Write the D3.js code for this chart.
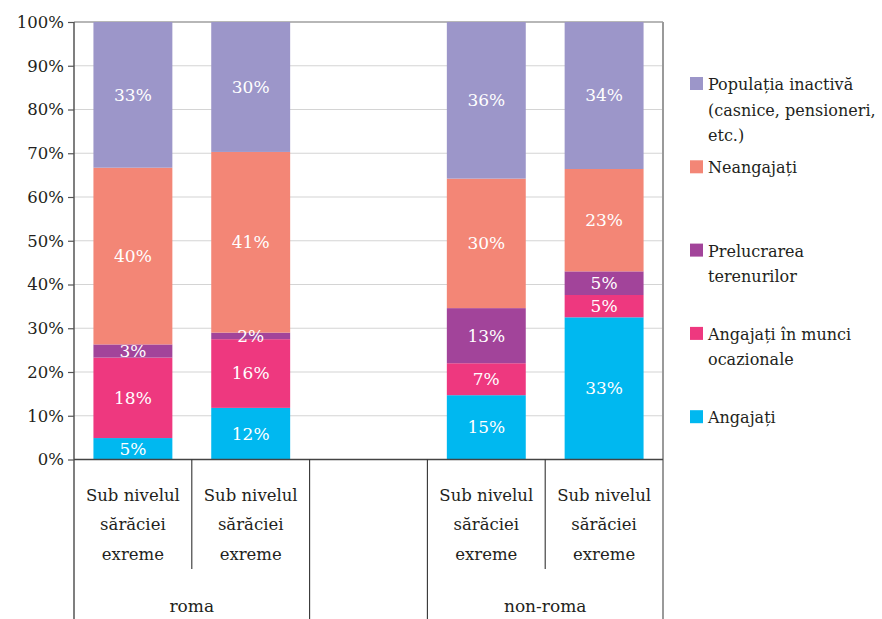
<!DOCTYPE html>
<html>
<head>
<meta charset="utf-8">
<script src="https://cdn.jsdelivr.net/npm/d3@7"></script>
<style>
  html, body { margin: 0; padding: 0; background: #ffffff; }
  svg { display: block; }
</style>
</head>
<body>
<svg id="chart" width="882" height="619" style="font-family: 'DejaVu Serif', serif;"></svg>
<script>
// ---- data ----
const slots = ["r1", "r2", "gap", "n1", "n2"];
const categoryLabels = [
  ["Sub nivelul", "sărăciei", "exreme"],
  ["Sub nivelul", "sărăciei", "exreme"],
  [],
  ["Sub nivelul", "sărăciei", "exreme"],
  ["Sub nivelul", "sărăciei", "exreme"]
];
const groups = ["roma", "non-roma"];
const seriesKeys = ["angajati", "ocazionale", "prelucrare", "neangajati", "inactiva"];
const angajati   = [4.9, 11.8, null, 14.7, 32.5];
const ocazionale = [18.4, 15.7, null, 7.3, 5.1];
const prelucrare = [3.0, 1.5, null, 12.6, 5.4];
const neangajati = [40.4, 41.3, null, 29.6, 23.4];
const inactiva   = [33.3, 29.7, null, 35.8, 33.6];
const seriesNames = {
  inactiva: ["Populația inactivă", "(casnice, pensioneri,", "etc.)"],
  neangajati: ["Neangajați"],
  prelucrare: ["Prelucrarea", "terenurilor"],
  ocazionale: ["Angajați în munci", "ocazionale"],
  angajati: ["Angajați"]
};
const colors = {
  angajati: "#00b8f0",
  ocazionale: "#ee387f",
  prelucrare: "#a2449a",
  neangajati: "#f38676",
  inactiva: "#9c96c9"
};
const yTicks = [0, 10, 20, 30, 40, 50, 60, 70, 80, 90, 100];

// ---- build table ----
const valuesByKey = { angajati, ocazionale, prelucrare, neangajati, inactiva };
const table = slots.map((s, i) => {
  const row = { slot: s };
  seriesKeys.forEach(k => row[k] = valuesByKey[k][i] == null ? 0 : valuesByKey[k][i]);
  return row;
});
const stacked = d3.stack().keys(seriesKeys)(table);

// ---- layout ----
const svg = d3.select("#chart");
const L = 74, R = 663, T = 22, B = 459.5;
const TXT = "#231f20";

const x = d3.scaleBand().domain(slots).range([L, R]).paddingInner(0.33).paddingOuter(0.165);
const y = d3.scaleLinear().domain([0, 100]).range([B, T]);
const step = x.step();
const boundary = i => x(slots[0]) - step * x.paddingInner() / 2 + i * step;

// gridlines
svg.append("g").selectAll("line").data(yTicks.slice(1)).join("line")
  .attr("x1", L).attr("x2", R)
  .attr("y1", d => y(d)).attr("y2", d => y(d))
  .attr("stroke", "#d4d4d4").attr("stroke-width", 1.2);

// top border
svg.append("line").attr("x1", L).attr("x2", R).attr("y1", y(100)).attr("y2", y(100))
  .attr("stroke", "#a6a6a6").attr("stroke-width", 1.5);

// bars
const layer = svg.append("g").selectAll("g").data(stacked).join("g")
  .attr("fill", d => colors[d.key]);
layer.selectAll("rect").data(d => d.filter(p => p.data.slot !== "gap")).join("rect")
  .attr("x", d => x(d.data.slot))
  .attr("width", x.bandwidth())
  .attr("y", d => y(d[1]))
  .attr("height", d => y(d[0]) - y(d[1]));

// bar value labels
stacked.forEach(s => {
  svg.append("g").selectAll("text").data(s.filter(p => p.data.slot !== "gap")).join("text")
    .attr("x", d => x(d.data.slot) + x.bandwidth() / 2)
    .attr("y", d => y((d[0] + d[1]) / 2))
    .attr("dy", "0.35em")
    .attr("text-anchor", "middle")
    .attr("fill", "#ffffff")
    .attr("font-size", 17)
    .text(d => Math.round(d[1] - d[0] + 1e-9) + "%");
});

// y axis
const yAxis = d3.axisLeft(y).tickValues(yTicks).tickFormat(d => d + "%").tickSize(6).tickSizeOuter(0);
const ya = svg.append("g").attr("transform", `translate(${L},0)`).call(yAxis);
ya.attr("font-family", null).attr("font-size", 16.5);
ya.select(".domain").remove();
ya.selectAll(".tick line").attr("stroke", "#555").attr("stroke-width", 1.2);
ya.selectAll(".tick text").attr("x", -10).attr("fill", TXT);

// y axis line (extends to bottom)
svg.append("line").attr("x1", L).attr("x2", L).attr("y1", T).attr("y2", 619)
  .attr("stroke", "#555").attr("stroke-width", 1.5);
// right border
svg.append("line").attr("x1", R).attr("x2", R).attr("y1", T).attr("y2", 619)
  .attr("stroke", "#9a9a9a").attr("stroke-width", 2);
// x axis line
svg.append("line").attr("x1", L).attr("x2", R).attr("y1", B).attr("y2", B)
  .attr("stroke", "#444").attr("stroke-width", 1.5);

// category dividers
const dividers = [
  { i: 1, end: 569 }, { i: 2, end: 619 }, { i: 3, end: 619 }, { i: 4, end: 569 }
];
svg.append("g").selectAll("line").data(dividers).join("line")
  .attr("x1", d => boundary(d.i)).attr("x2", d => boundary(d.i))
  .attr("y1", B).attr("y2", d => d.end)
  .attr("stroke", "#333").attr("stroke-width", 1.1);

// category labels
const catG = svg.append("g");
slots.forEach((s, i) => {
  const t = catG.append("text")
    .attr("text-anchor", "middle")
    .attr("fill", TXT)
    .attr("font-size", 16.5);
  categoryLabels[i].forEach((line, j) => {
    t.append("tspan").attr("x", x(s) + x.bandwidth() / 2).attr("y", 500.5 + j * 29.8).text(line);
  });
});

// group labels
const groupSpans = [[0, 2], [3, 5]];
svg.append("g").selectAll("text").data(groups).join("text")
  .attr("x", (d, i) => (boundary(groupSpans[i][0]) + boundary(groupSpans[i][1])) / 2)
  .attr("y", 611.5)
  .attr("text-anchor", "middle")
  .attr("fill", TXT)
  .attr("font-size", 17)
  .text(d => d);

// legend
const legendKeys = seriesKeys.slice().reverse();
const lg = svg.append("g").selectAll("g").data(legendKeys).join("g")
  .attr("transform", (d, i) => `translate(690, ${90 + i * 83.3})`);
lg.append("rect").attr("x", 0).attr("y", -13).attr("width", 13).attr("height", 13)
  .attr("fill", d => colors[d]);
lg.append("text").attr("font-size", 16).attr("fill", TXT)
  .each(function(d) {
    const t = d3.select(this);
    seriesNames[d].forEach((line, j) => {
      t.append("tspan").attr("x", 18).attr("y", j * 25.5).text(line);
    });
  });
</script>
</body>
</html>
